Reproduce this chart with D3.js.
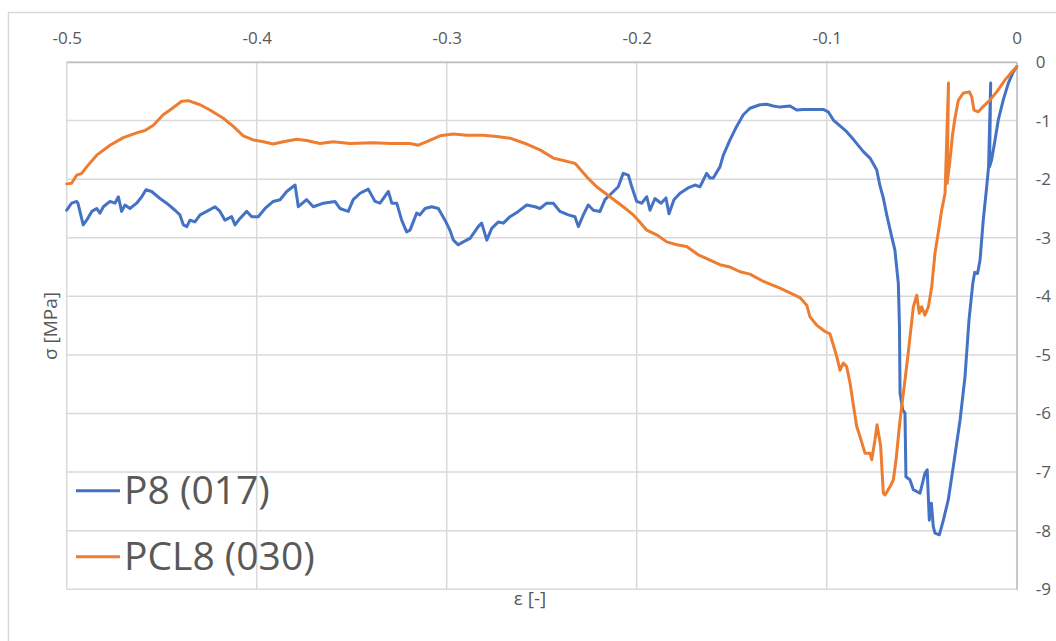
<!DOCTYPE html>
<html>
<head>
<meta charset="utf-8">
<script src="https://cdn.jsdelivr.net/npm/d3@7"></script>
<style>
  html, body { margin: 0; padding: 0; background: #ffffff; }
  svg { display: block; font-family: "Open Sans", "Noto Sans", sans-serif; }
</style>
</head>
<body>
<svg id="chart" width="1056" height="641"></svg>
<script>
// Strain (ε) and stress (σ, MPa) of specimen P8 (017)
const epsP8 = [-0.5,-0.4974,-0.4947,-0.4941,-0.4913,-0.4895,-0.4868,-0.4842,-0.4825,-0.4807,-0.4772,-0.4746,-0.4728,-0.4711,-0.4693,-0.4667,-0.4632,-0.4605,-0.4583,-0.4553,-0.4509,-0.4474,-0.4430,-0.4404,-0.4386,-0.4368,-0.4351,-0.4325,-0.4298,-0.4263,-0.4219,-0.4193,-0.4167,-0.4132,-0.4114,-0.4088,-0.4053,-0.4026,-0.3992,-0.3956,-0.3913,-0.3877,-0.3842,-0.3798,-0.3781,-0.3737,-0.3702,-0.3649,-0.3588,-0.3562,-0.3518,-0.3492,-0.3456,-0.3413,-0.3377,-0.3351,-0.3307,-0.3289,-0.3263,-0.3237,-0.3211,-0.3193,-0.3158,-0.3141,-0.3114,-0.3079,-0.3044,-0.3009,-0.2983,-0.2965,-0.2939,-0.2913,-0.2877,-0.2834,-0.2816,-0.2789,-0.2763,-0.2728,-0.2702,-0.2667,-0.2623,-0.2579,-0.2535,-0.2509,-0.2474,-0.2439,-0.2404,-0.2360,-0.2325,-0.2307,-0.2281,-0.2255,-0.2228,-0.2193,-0.2167,-0.2132,-0.2097,-0.2071,-0.2044,-0.2026,-0.2000,-0.1974,-0.1947,-0.1930,-0.1904,-0.1872,-0.1846,-0.1830,-0.1804,-0.1772,-0.1730,-0.1693,-0.1667,-0.1632,-0.1614,-0.1597,-0.1562,-0.1544,-0.1509,-0.1474,-0.1439,-0.1404,-0.1351,-0.1316,-0.1281,-0.1246,-0.1193,-0.1158,-0.1123,-0.1079,-0.1018,-0.0992,-0.0965,-0.0930,-0.0895,-0.0860,-0.0807,-0.0772,-0.0737,-0.0719,-0.0702,-0.0684,-0.0658,-0.0641,-0.0623,-0.0617,-0.0614,-0.0600,-0.0588,-0.0583,-0.0562,-0.0544,-0.0509,-0.0483,-0.0471,-0.0460,-0.0449,-0.0439,-0.0430,-0.0407,-0.0386,-0.0360,-0.0334,-0.0298,-0.0272,-0.0251,-0.0231,-0.0221,-0.0206,-0.0193,-0.0176,-0.0158,-0.0148,-0.0137,-0.0143,-0.0132,-0.0114,-0.0097,-0.0071,-0.0044,-0.0018,0];
const sigP8 = [-2.53,-2.41,-2.38,-2.41,-2.78,-2.70,-2.55,-2.50,-2.58,-2.47,-2.38,-2.41,-2.30,-2.55,-2.44,-2.50,-2.41,-2.30,-2.18,-2.21,-2.33,-2.41,-2.53,-2.61,-2.78,-2.81,-2.70,-2.73,-2.61,-2.55,-2.47,-2.55,-2.70,-2.64,-2.78,-2.67,-2.55,-2.64,-2.64,-2.50,-2.38,-2.35,-2.21,-2.10,-2.47,-2.35,-2.47,-2.41,-2.38,-2.50,-2.55,-2.35,-2.24,-2.17,-2.38,-2.41,-2.21,-2.41,-2.41,-2.70,-2.90,-2.87,-2.58,-2.61,-2.50,-2.47,-2.50,-2.70,-2.87,-3.04,-3.12,-3.07,-3.01,-2.81,-2.75,-3.04,-2.84,-2.73,-2.75,-2.64,-2.55,-2.44,-2.47,-2.50,-2.41,-2.41,-2.55,-2.61,-2.64,-2.81,-2.61,-2.44,-2.53,-2.55,-2.35,-2.24,-2.13,-1.90,-1.93,-2.13,-2.38,-2.41,-2.30,-2.53,-2.33,-2.41,-2.32,-2.59,-2.35,-2.24,-2.15,-2.10,-2.13,-1.90,-1.98,-1.98,-1.79,-1.59,-1.33,-1.10,-0.90,-0.79,-0.73,-0.72,-0.75,-0.77,-0.75,-0.82,-0.81,-0.81,-0.81,-0.85,-0.99,-1.09,-1.19,-1.32,-1.53,-1.64,-1.84,-2.12,-2.32,-2.61,-2.98,-3.21,-3.78,-4.52,-5.65,-5.94,-5.99,-7.08,-7.13,-7.30,-7.36,-7.02,-6.96,-7.82,-7.53,-7.93,-8.04,-8.07,-7.82,-7.47,-6.91,-6.11,-5.37,-4.40,-3.78,-3.59,-3.61,-3.38,-2.70,-2.13,-1.79,-0.36,-1.79,-1.67,-1.33,-0.99,-0.65,-0.36,-0.17,-0.08];

// Strain (ε) and stress (σ, MPa) of specimen PCL8 (030)
const epsPCL8 = [-0.5,-0.4974,-0.4947,-0.4921,-0.4895,-0.4842,-0.4772,-0.4702,-0.4632,-0.4588,-0.4544,-0.4492,-0.4456,-0.4395,-0.4360,-0.4298,-0.4246,-0.4176,-0.4123,-0.4071,-0.4018,-0.3965,-0.3913,-0.3860,-0.3789,-0.3737,-0.3667,-0.3597,-0.3509,-0.3386,-0.3298,-0.3193,-0.3149,-0.3105,-0.3035,-0.2965,-0.2895,-0.2807,-0.2737,-0.2667,-0.2579,-0.2509,-0.2439,-0.2386,-0.2325,-0.2263,-0.2211,-0.2141,-0.2071,-0.2018,-0.1992,-0.1947,-0.1895,-0.1842,-0.1789,-0.1737,-0.1676,-0.1614,-0.1562,-0.1509,-0.1456,-0.1404,-0.1342,-0.1298,-0.1246,-0.1193,-0.1141,-0.1105,-0.1088,-0.1053,-0.1009,-0.0983,-0.0965,-0.0947,-0.0930,-0.0913,-0.0895,-0.0877,-0.0860,-0.0842,-0.0825,-0.0798,-0.0772,-0.0763,-0.0746,-0.0735,-0.0716,-0.0702,-0.0693,-0.0667,-0.0649,-0.0635,-0.0614,-0.0588,-0.0571,-0.0544,-0.0526,-0.0513,-0.0500,-0.0483,-0.0465,-0.0447,-0.0430,-0.0413,-0.0395,-0.0377,-0.0359,-0.0366,-0.0351,-0.0338,-0.0325,-0.0307,-0.0281,-0.0249,-0.0237,-0.0225,-0.0202,-0.0176,-0.0141,-0.0105,-0.0062,-0.0026,0];
const sigPCL8 = [-2.08,-2.07,-1.93,-1.90,-1.79,-1.59,-1.42,-1.29,-1.21,-1.17,-1.08,-0.90,-0.82,-0.67,-0.66,-0.73,-0.82,-0.96,-1.10,-1.26,-1.33,-1.36,-1.40,-1.36,-1.32,-1.34,-1.39,-1.36,-1.39,-1.38,-1.39,-1.39,-1.42,-1.36,-1.26,-1.23,-1.25,-1.25,-1.27,-1.30,-1.40,-1.50,-1.64,-1.68,-1.73,-1.96,-2.13,-2.30,-2.47,-2.61,-2.70,-2.87,-2.95,-3.07,-3.12,-3.15,-3.29,-3.38,-3.46,-3.50,-3.58,-3.62,-3.73,-3.79,-3.86,-3.94,-4.02,-4.15,-4.35,-4.49,-4.60,-4.64,-4.83,-5.03,-5.26,-5.14,-5.20,-5.48,-5.85,-6.22,-6.39,-6.68,-6.68,-6.79,-6.45,-6.19,-6.56,-7.36,-7.39,-7.25,-7.13,-6.79,-6.11,-5.43,-4.97,-4.18,-3.98,-4.29,-4.18,-4.32,-4.18,-3.83,-3.26,-2.92,-2.53,-2.24,-0.36,-2.07,-1.67,-1.25,-0.96,-0.65,-0.53,-0.51,-0.59,-0.82,-0.85,-0.76,-0.65,-0.51,-0.31,-0.17,-0.08];

const xTicks = [-0.5, -0.4, -0.3, -0.2, -0.1, 0];
const yTicks = [0, -1, -2, -3, -4, -5, -6, -7, -8, -9];
const seriesNames = ["P8 (017)", "PCL8 (030)"];
const seriesColors = ["#4472C4", "#ED7D31"];
const xTitle = "ε [-]";
const yTitle = "σ [MPa]";

const svg = d3.select("#chart");
const W = 1056, H = 641;
const plot = { left: 66.7, right: 1016.7, top: 62, bottom: 589.3 };

const x = d3.scaleLinear().domain([-0.5, 0]).range([plot.left, plot.right]);
const y = d3.scaleLinear().domain([-9, 0]).range([plot.bottom, plot.top]);

// chart frame
svg.append("rect")
  .attr("x", 8.5).attr("y", 12.5)
  .attr("width", W + 20).attr("height", H + 20)
  .attr("fill", "#ffffff").attr("stroke", "#d9d9d9").attr("stroke-width", 1.5);

// gridlines
const grid = svg.append("g").attr("stroke", "#d9d9d9").attr("stroke-width", 1.5);
grid.selectAll("line.v").data(xTicks).join("line")
  .attr("x1", d => x(d)).attr("x2", d => x(d))
  .attr("y1", plot.top).attr("y2", plot.bottom);
grid.selectAll("line.h").data(yTicks).join("line")
  .attr("x1", plot.left).attr("x2", plot.right)
  .attr("y1", d => y(d)).attr("y2", d => y(d));

// axes: x along the top, y along the right
const xAxis = svg.append("g")
  .attr("transform", `translate(0,${plot.top})`)
  .call(d3.axisTop(x).tickValues(xTicks).tickSize(0).tickPadding(18)
    .tickFormat(d => d === 0 ? "0" : d.toFixed(1)));
const yAxis = svg.append("g")
  .attr("transform", `translate(${plot.right},0)`)
  .call(d3.axisRight(y).tickValues(yTicks).tickSize(0).tickPadding(19)
    .tickFormat(d => String(d)));
[xAxis, yAxis].forEach(a => {
  a.select(".domain").attr("stroke", "#bfbfbf").attr("stroke-width", 1.5);
  a.selectAll("text").attr("fill", "#595959").attr("font-size", 17)
    .attr("font-family", "'Open Sans', 'Noto Sans', sans-serif");
});

// axis titles
svg.append("text")
  .attr("x", 530).attr("y", 605)
  .attr("text-anchor", "middle").attr("fill", "#595959").attr("font-size", 19)
  .text(xTitle);
svg.append("text")
  .attr("transform", "translate(57,326) rotate(-90)")
  .attr("text-anchor", "middle").attr("fill", "#595959").attr("font-size", 19)
  .text(yTitle);

// series lines
const series = [
  d3.zip(epsP8, sigP8),
  d3.zip(epsPCL8, sigPCL8)
];
const line = d3.line().x(d => x(d[0])).y(d => y(d[1]));
svg.append("g").selectAll("path").data(series).join("path")
  .attr("d", line)
  .attr("fill", "none")
  .attr("stroke", (d, i) => seriesColors[i])
  .attr("stroke-width", 3)
  .attr("stroke-linejoin", "round")
  .attr("stroke-linecap", "round");

// legend
const legend = svg.append("g");
const legendY = [490.7, 556.7];
seriesNames.forEach((name, i) => {
  legend.append("line")
    .attr("x1", 76).attr("x2", 120)
    .attr("y1", legendY[i]).attr("y2", legendY[i])
    .attr("stroke", seriesColors[i]).attr("stroke-width", 3);
  legend.append("text")
    .attr("x", 124).attr("y", legendY[i])
    .attr("dy", "0.35em")
    .attr("fill", "#595959").attr("font-size", 39)
    .text(name);
});
</script>
</body>
</html>
